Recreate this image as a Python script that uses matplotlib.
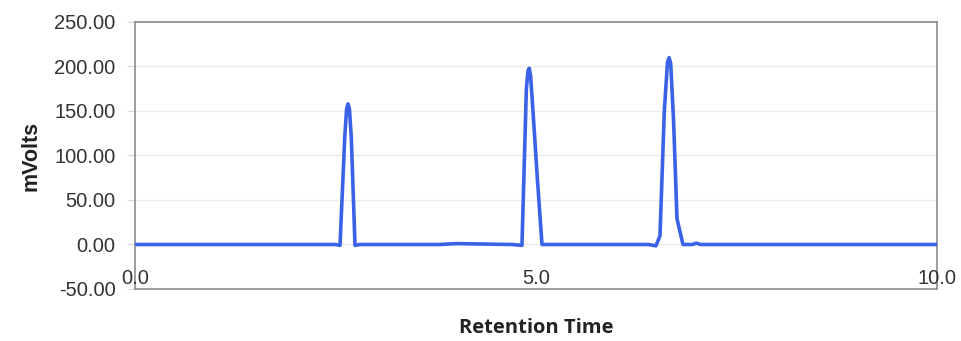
import matplotlib
matplotlib.use("Agg")
import matplotlib.pyplot as plt

# Chromatogram vertices (time in min, signal in mV)
time_min = [0.00, 2.50, 2.556, 2.615, 2.638, 2.656, 2.674, 2.697, 2.743, 2.80,
            3.80, 4.00, 4.70, 4.825, 4.880, 4.900, 4.916, 4.932, 4.955, 5.020,
            5.075, 5.20, 6.40, 6.496, 6.546, 6.600, 6.640, 6.660, 6.680, 6.715,
            6.758, 6.833, 6.95, 7.00, 7.05, 7.20, 10.00]
signal_mv = [0.0, 0.0, -1.0, 120.0, 152.0, 158.0, 152.0, 120.0, -1.0, 0.0,
             0.0, 1.0, 0.0, -1.0, 175.0, 195.0, 198.0, 190.0, 160.0, 70.0,
             0.0, 0.0, 0.0, -1.5, 10.0, 150.0, 205.0, 210.0, 203.0, 140.0,
             29.0, 0.0, 0.0, 1.5, 0.0, 0.0, 0.0]

y_ticks = [-50, 0, 50, 100, 150, 200, 250]
x_ticks = [0.0, 5.0, 10.0]
x_tick_labels = ["0.0", "5.0", "10.0"]

fig = plt.figure(figsize=(9.61, 3.41), dpi=100)
ax = fig.add_axes([0.1405, 0.1525, 0.8345, 0.783])

ax.plot(time_min, signal_mv, color="#3a62e6", lw=2.6, solid_joinstyle="round",
        solid_capstyle="round", zorder=3)

ax.set_xlim(0, 10)
ax.set_ylim(-50, 250)
ax.set_yticks(y_ticks)
ax.set_yticklabels([f"{v:.2f}" for v in y_ticks], family="Liberation Sans",
                   fontsize=14.5, color="#333333")
ax.tick_params(axis="y", length=6, color="#d8d8d8", pad=8)
ax.set_xticks(x_ticks)
ax.set_xticklabels([])
ax.tick_params(axis="x", length=0)
for xv, lab in zip(x_ticks, x_tick_labels):
    ax.text(xv, -49, lab, ha="center", va="bottom", family="Liberation Sans",
            fontsize=14.5, color="#333333")

ax.grid(axis="y", color="#ebebeb", lw=1, zorder=0)
for s in ax.spines.values():
    s.set_color("#8c8c8c")
    s.set_linewidth(1.2)

ax.set_ylabel("mVolts", family="Liberation Sans", fontweight="bold",
              fontsize=15.5, color="#222222", labelpad=9)
fig.text(0.558, 0.008, "Retention Time", family="Open Sans", fontweight="bold",
         fontsize=14.5, color="#222222", ha="center", va="bottom")

fig.savefig("out.png", dpi=100)
